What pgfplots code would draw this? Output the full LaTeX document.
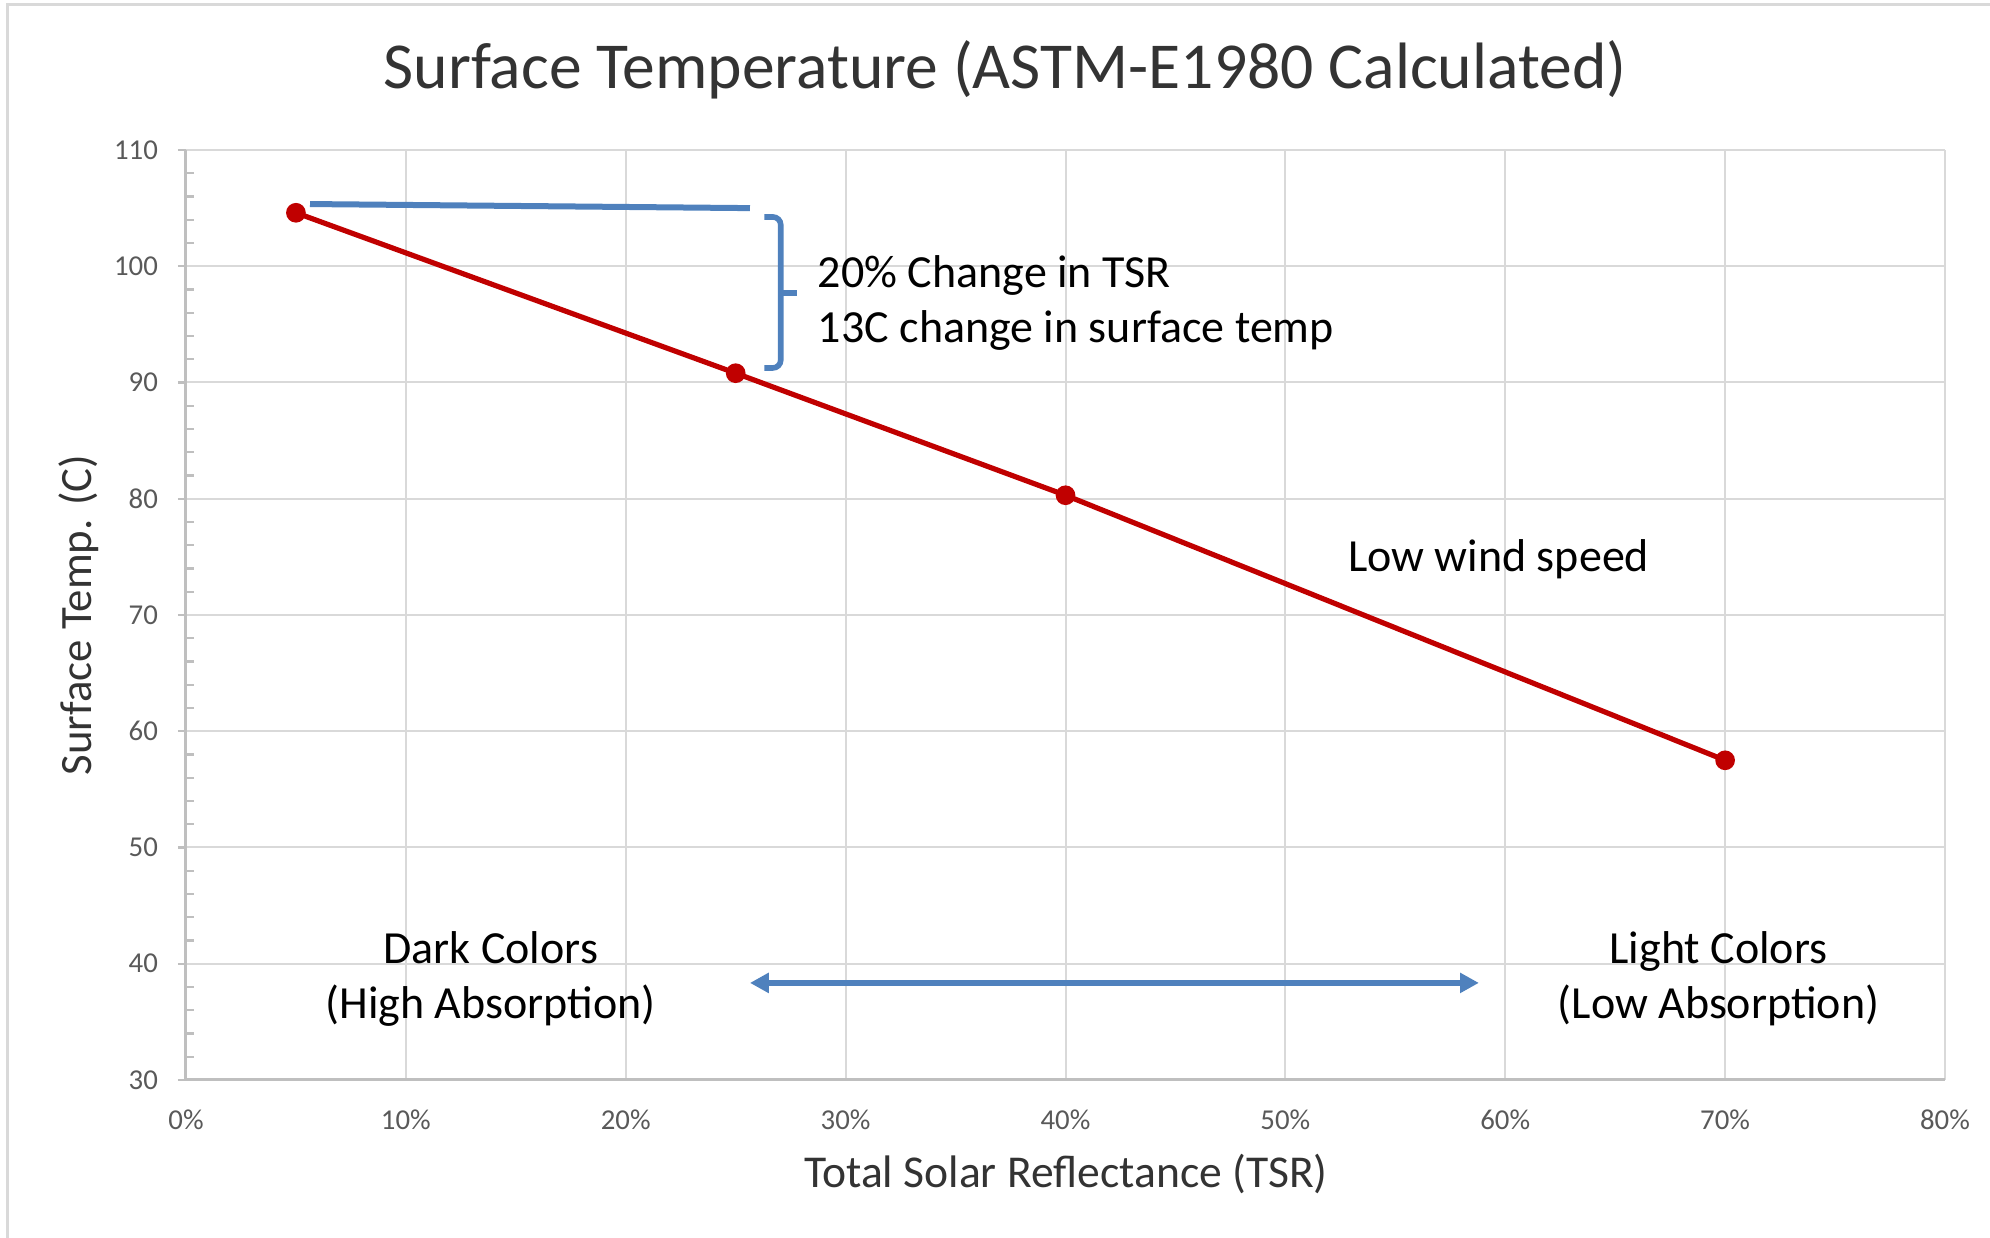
\documentclass[border=0pt]{standalone}
\usepackage{pgfplots}
\pgfplotsset{compat=1.18}
\usepackage{fontspec}
\setmainfont{Carlito}
\usetikzlibrary{arrows.meta}
\definecolor{redline}{HTML}{C00000}
\definecolor{blueann}{HTML}{4F81BD}
\definecolor{gridc}{HTML}{D9D9D9}
\definecolor{axisc}{HTML}{BFBFBF}
\definecolor{tickc}{HTML}{595959}
\definecolor{titlec}{HTML}{333333}
\begin{document}
\begin{tikzpicture}
\begin{axis}[
  scale only axis, width=439.75pt, height=232.5pt,
  xmin=0, xmax=80, ymin=30, ymax=110,
  axis x line=bottom, axis y line=left,
  axis line style={axisc, line width=0.75pt, -},
  xtick={0,10,...,80}, ytick={30,40,...,110},
  minor y tick num=4,
  grid=major, major grid style={gridc, line width=0.5pt},
  xticklabel={\pgfmathprintnumber{\tick}\%},
  /pgf/number format/assume math mode=true,
  ticklabel style={font=\fontsize{7.2}{8}\selectfont, text=tickc},
  x tick style={draw=none},
  y tick style={axisc, line width=0.6pt},
  tick align=outside,
  major tick length=2pt, minor tick length=2pt,
  minor y tick style={xshift=2pt},
  xticklabel style={yshift=-2pt},
  yticklabel style={xshift=-1.5pt},
  clip=false,
]
\addplot[redline, line width=1.3pt, mark=*, mark size=1.8pt,
  mark options={fill=redline, draw=redline}]
  coordinates {(5,104.6) (25,90.8) (40,80.3) (70,57.5)};

% blue reference line
\draw[blueann, line width=1.5pt] (axis cs:5.64,105.35) -- (axis cs:25.65,105.0);
% bracket
\draw[blueann, line width=1.4pt, rounded corners=2pt]
  (axis cs:26.3,104.24) -- (axis cs:27.05,104.24) -- (axis cs:27.05,91.25) -- (axis cs:26.3,91.25);
\draw[blueann, line width=1.4pt] (axis cs:27.05,97.7) -- (axis cs:27.8,97.7);
% arrow
\draw[blueann, line width=1.5pt, {Triangle[width=4.8pt,length=4.7pt]}-{Triangle[width=4.8pt,length=4.7pt]}]
  (axis cs:25.65,38.35) -- (axis cs:58.8,38.35);

\node[anchor=base west, font=\fontsize{11.5}{13}\selectfont] at (axis cs:28.1,98.2) {20\% Change in TSR};
\node[anchor=base west, font=\fontsize{11.5}{13}\selectfont] at (axis cs:28.1,93.4) {13C change in surface temp};
\node[anchor=base, font=\fontsize{11.5}{13}\selectfont] at (axis cs:59.7,73.7) {Low wind speed};
\node[anchor=base, font=\fontsize{11.5}{13}\selectfont] at (axis cs:13.86,40.0) {Dark Colors};
\node[anchor=base, font=\fontsize{11.5}{13}\selectfont] at (axis cs:13.86,35.3) {(High Absorption)};
\node[anchor=base, font=\fontsize{11.5}{13}\selectfont] at (axis cs:69.7,40.0) {Light Colors};
\node[anchor=base, font=\fontsize{11.5}{13}\selectfont] at (axis cs:69.7,35.3) {(Low Absorption)};
\end{axis}
\node[font=\fontsize{16.4}{19}\selectfont, text=titlec] at (204.75pt,252.5pt) {Surface Temperature (ASTM-E1980 Calculated)};
\node[rotate=90, font=\fontsize{11.2}{12}\selectfont, text=titlec] at (-26.75pt,116.25pt) {Surface Temp. (C)};
\node[font=\fontsize{11.4}{12}\selectfont, text=titlec] at (220pt,-23.5pt) {Total Solar Reflectance (TSR)};
\draw[gridc, line width=0.75pt] (-44.5pt,-50pt) -- (-44.5pt,268.75pt) -- (460pt,268.75pt);
\pgfresetboundingbox
\useasboundingbox (-46.5pt,-39.5pt) rectangle (451pt,270pt);
\end{tikzpicture}
\end{document}
